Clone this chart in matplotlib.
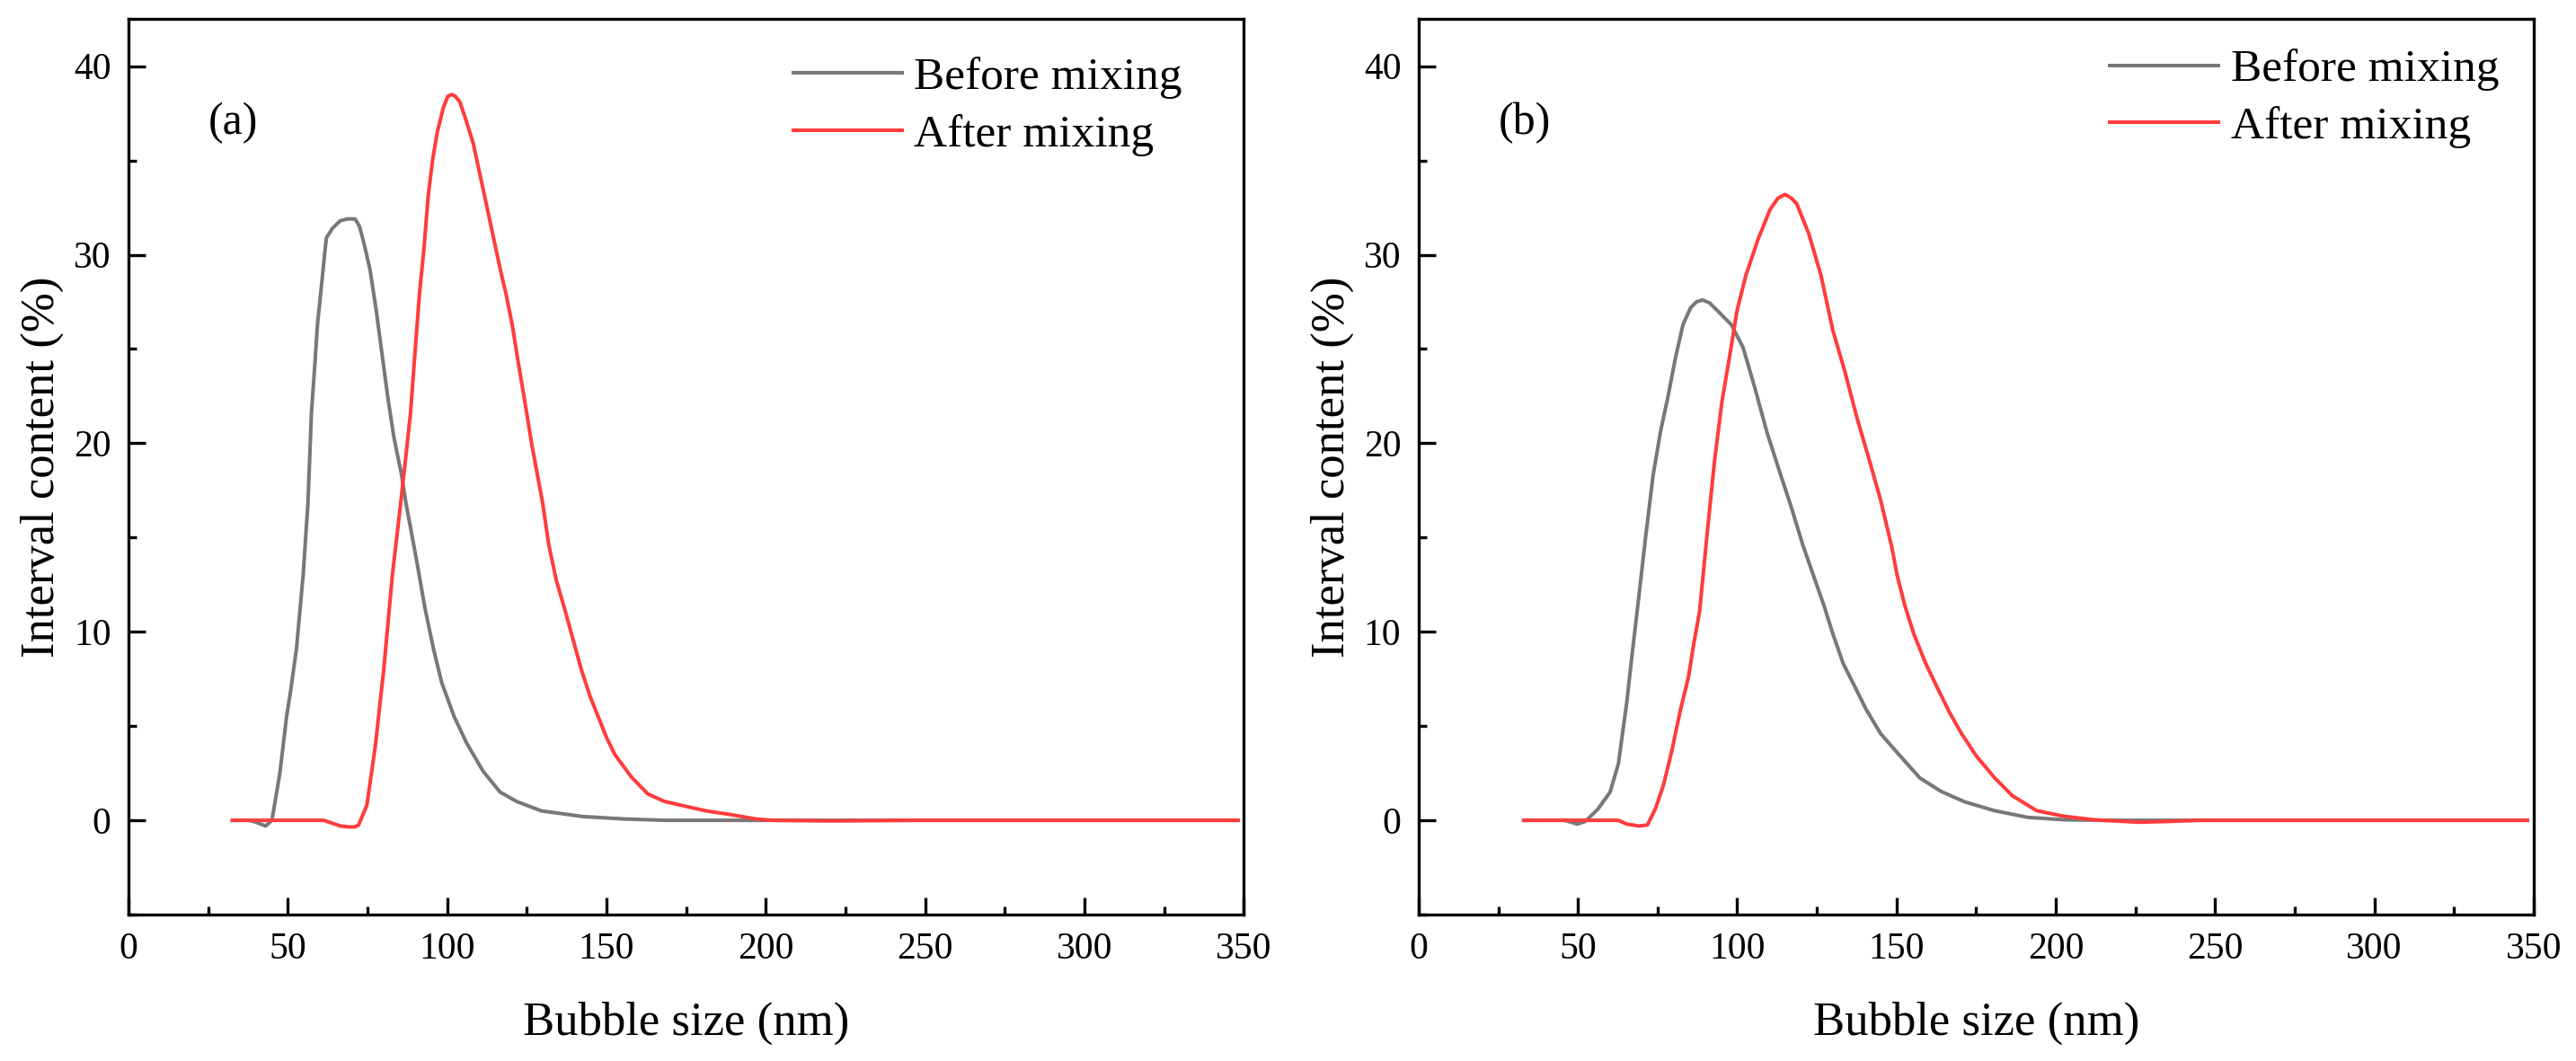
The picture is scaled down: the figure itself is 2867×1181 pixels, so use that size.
import numpy as np
import matplotlib
matplotlib.use("Agg")
import matplotlib.pyplot as plt
from matplotlib.ticker import MultipleLocator

plt.rcParams['font.family'] = ['Liberation Serif', 'DejaVu Serif']

# ---- data (bubble size in nm, interval content in %) ----
a_before_x = [32.6, 38.0, 40.0, 43.0, 45.0, 47.5, 49.6, 50.9, 52.7, 54.8, 56.3, 57.4,
              58.4, 59.3, 60.7, 61.7, 62.1, 64.0, 66.4, 68.7, 71.1, 72.5, 73.9,
              75.8, 77.7, 79.5, 81.4, 83.3, 85.6, 87.1, 90.5, 93.1, 95.7, 98.3,
              102.2, 106.1, 111.3, 116.6, 121.8, 129.6, 142.6, 155.7, 168.7,
              200.0, 250.0, 300.0, 348.2]
a_before_y = [0.0, 0.0, -0.1, -0.3, 0.0, 2.5, 5.5, 6.9, 9.1, 13.0, 16.8, 21.6,
              24.0, 26.3, 28.6, 30.3, 30.9, 31.4, 31.8, 31.9, 31.9, 31.5, 30.6,
              29.2, 27.1, 24.8, 22.4, 20.3, 18.4, 16.8, 13.7, 11.2, 9.1, 7.3,
              5.5, 4.1, 2.6, 1.5, 1.0, 0.5, 0.2, 0.07, 0.0,
              0.0, 0.0, 0.0, 0.0]

a_after_x = [32.6, 61.3, 63.9, 66.5, 69.1, 71.0, 72.2, 74.8, 77.5, 80.1, 82.8,
             85.4, 87.1, 88.5, 89.9, 91.3, 92.7, 94.1, 95.5, 96.9, 98.8, 100.2,
             101.4, 102.6, 104.0, 105.8, 108.2, 110.1, 111.9, 114.3, 116.7,
             118.5, 120.4, 122.3, 124.2, 126.5, 130.0, 131.9, 134.3, 136.9,
             139.5, 142.1, 144.8, 147.4, 150.0, 152.6, 157.8, 163.0, 168.2,
             173.4, 181.3, 189.1, 196.9, 202.1, 220.4, 246.5, 348.2]
a_after_y = [0.0, 0.0, -0.15, -0.3, -0.35, -0.35, -0.25, 0.8, 4.0, 8.0, 13.0,
             16.8, 19.4, 21.6, 24.8, 27.9, 30.3, 33.2, 35.1, 36.5, 37.8, 38.4,
             38.5, 38.4, 38.1, 37.2, 35.9, 34.4, 33.0, 31.1, 29.2,
             27.9, 26.3, 24.3, 22.4, 20.0, 16.8, 14.6, 12.7, 11.2,
             9.6, 8.0, 6.6, 5.5, 4.4, 3.5, 2.3, 1.4, 1.0,
             0.8, 0.5, 0.3, 0.07, 0.0, -0.03, 0.0, 0.0]

b_before_x = [33.0, 45.9, 49.8, 52.4, 56.3, 60.1, 62.7, 65.3, 67.0, 68.6, 71.3,
              73.6, 75.9, 78.3, 80.7, 83.0, 85.4, 87.2, 89.1, 91.3, 93.4, 98.1,
              101.8, 105.6, 109.3, 113.1, 116.8, 120.6, 123.9, 127.2, 130.0,
              133.3, 136.6, 140.4, 145.0, 150.7, 157.3, 163.9, 171.4, 180.8,
              191.1, 202.4, 215.0, 280.0, 348.0]
b_before_y = [0.0, 0.0, -0.2, -0.05, 0.6, 1.5, 3.0, 6.2, 8.8, 11.1, 15.1,
              18.3, 20.6, 22.5, 24.6, 26.3, 27.2, 27.5, 27.6, 27.45, 27.1, 26.3,
              25.1, 22.9, 20.6, 18.6, 16.7, 14.6, 13.0, 11.4, 9.9,
              8.3, 7.2, 5.9, 4.6, 3.5, 2.25, 1.54, 0.98, 0.51,
              0.16, 0.03, 0.0, 0.0, 0.0]

b_after_x = [33.0, 62.7, 65.3, 69.2, 71.8, 74.3, 76.9, 79.5, 82.1, 84.7, 86.3,
             88.2, 90.5, 92.9, 95.2, 97.6, 99.9, 102.7, 106.5, 110.3, 112.8,
             115.0, 117.0, 118.7, 122.5, 126.3, 130.0, 133.8, 137.5, 141.3,
             145.0, 148.5, 150.2, 152.6, 155.4, 159.2, 162.9, 166.7, 170.4,
             175.1, 180.8, 186.4, 194.0, 202.4, 211.8, 225.9, 235.3, 244.7, 348.0]
b_after_y = [0.0, 0.0, -0.2, -0.3, -0.25, 0.6, 1.9, 3.7, 5.8, 7.6, 9.3,
             11.1, 15.1, 19.1, 22.2, 24.6, 27.0, 28.9, 30.8, 32.4, 33.0,
             33.2, 33.0, 32.7, 31.1, 28.9, 26.0, 23.8, 21.4, 19.2,
             17.0, 14.5, 13.0, 11.4, 9.9, 8.3, 7.0, 5.7, 4.6,
             3.4, 2.25, 1.3, 0.51, 0.22, 0.03, -0.1, -0.06, 0.0, 0.0]

panels = [
    ("(a)", a_before_x, a_before_y, a_after_x, a_after_y, 0.596, 0.902),
    ("(b)", b_before_x, b_before_y, b_after_x, b_after_y, 0.620, 0.911),
]

GRAY = '#787878'
RED = '#FF3C3C'

fig = plt.figure(figsize=(28.67, 11.81), dpi=100)
lefts = [0.0499, 0.5507]

for left, (tag, bx, by, ax_, ay, lx, ly) in zip(lefts, panels):
    ax = fig.add_axes([left, 0.138, 0.4329, 0.844])
    ax.plot(bx, by, color=GRAY, lw=2.9, label='Before mixing', solid_joinstyle='round')
    ax.plot(ax_, ay, color=RED, lw=2.9, label='After mixing', solid_joinstyle='round')

    ax.set_xlim(0, 350)
    ax.set_ylim(-5, 42.5)
    ax.xaxis.set_major_locator(MultipleLocator(50))
    ax.xaxis.set_minor_locator(MultipleLocator(25))
    ax.yaxis.set_major_locator(MultipleLocator(10))
    ax.yaxis.set_minor_locator(MultipleLocator(5))
    ax.set_yticks([0, 10, 20, 30, 40])

    for s in ax.spines.values():
        s.set_linewidth(2.4)
    ax.tick_params(which='both', direction='in', width=2.4,
                   top=False, right=False, labelsize=30, pad=14)
    ax.tick_params(which='major', length=13.5)
    ax.tick_params(which='minor', length=6.5)

    ax.set_xlabel('Bubble size (nm)', fontsize=38, labelpad=28)
    ax.set_ylabel('Interval content (%)', fontsize=38, labelpad=8)

    ax.text(25, 37.0, tag, fontsize=36, va='center', ha='left')

    ax.legend(loc='center left', bbox_to_anchor=(lx, ly), frameon=False,
              fontsize=37, handlelength=2.35, handletextpad=0.27,
              labelspacing=0.33, borderpad=0, borderaxespad=0)

fig.savefig('out.png', dpi=100)
